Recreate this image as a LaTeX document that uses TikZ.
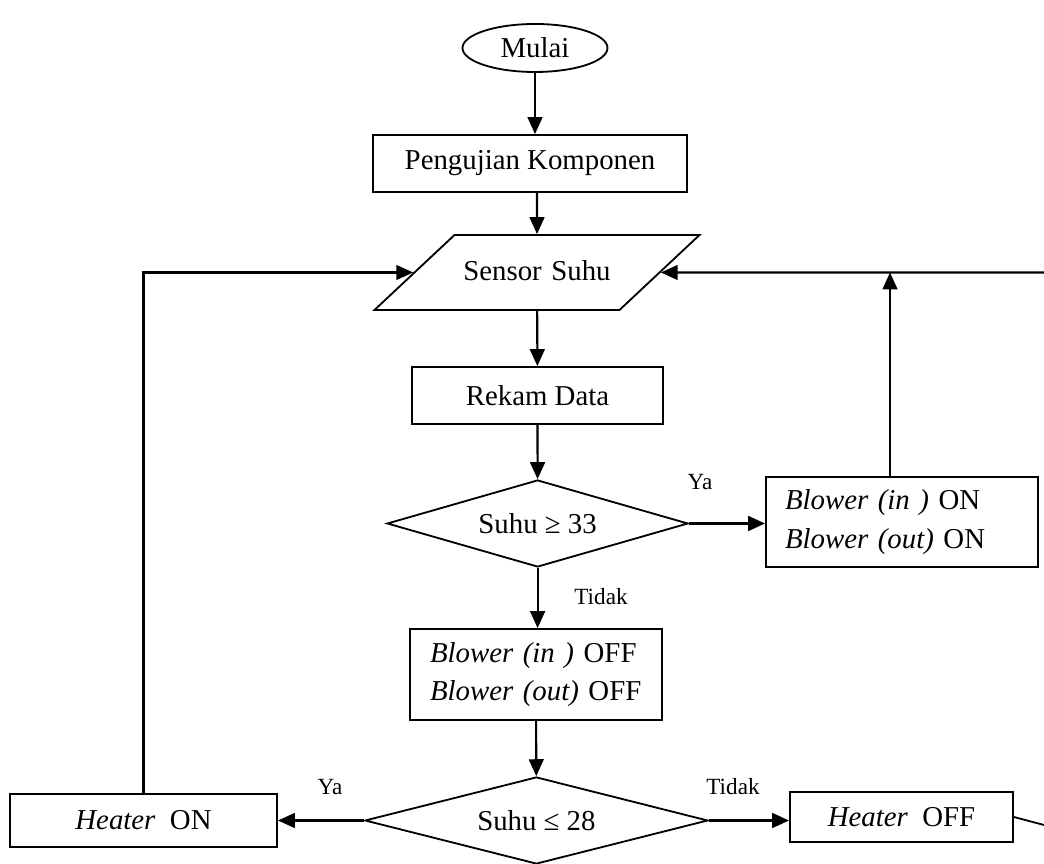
\documentclass[tikz,border=0pt]{standalone}
\usepackage{fontspec}
\setmainfont{Liberation Serif}
\usetikzlibrary{shapes.geometric,arrows.meta}

\begin{document}
\begin{tikzpicture}[
	every node/.style={font=\fontsize{20.5}{27.5}\selectfont},
	terminal/.style={draw,ellipse,line width=1.3pt,minimum width=3.625cm,minimum height=1.2cm,inner sep=0pt},
	proses/.style={draw,rectangle,line width=1.3pt,minimum height=1.425cm},
	masukan/.style={draw,trapezium,trapezium left angle=43.15,trapezium right angle=136.85,line width=1.3pt,inner xsep=0pt,inner ysep=0.5375cm,text width=4.125cm,text height=0.6cm,text depth=0.2cm,align=center},
	keputusan/.style={draw,diamond,aspect=3.5,inner sep=0pt,line width=1.3pt},
	ket/.style={font=\fontsize{16.5}{20}\selectfont},
	panah/.style={line width=1.5pt,-{Triangle[length=12pt,width=10.5pt]}}
]
		\useasboundingbox (0,0) rectangle (26.1,21.6);
		\node[terminal] (mulai) at (13.375,20.4) {Mulai};
		\node[proses,minimum width=7.85cm] (uji) at (13.25,17.5125) {Pengujian Komponen};
		\node[masukan] (sensor) at (13.425,14.7875) {Sensor Suhu};
		\node[proses,minimum width=6.275cm] (rekam) at (13.4375,11.7125) {Rekam Data};
		\node[keputusan,minimum width=7.525cm,minimum height=2.175cm] (cek1) at (13.44,8.5125) {Suhu ≥ 33};
		\node[proses,minimum width=6.8cm,minimum height=2.25cm,inner xsep=0.475cm,text width=5.85cm,align=left] (bon) at (22.55,8.55) {\textit{Blower (in )} ON\\\textit{Blower (out)} ON};
		\node[proses,minimum width=6.3cm,minimum height=2.275cm,inner xsep=0.5cm,text width=5.3cm,align=left] (boff) at (13.4,4.7375) {\textit{Blower (in )} OFF\\\textit{Blower (out)} OFF};
		\node[keputusan,minimum width=8.575cm,minimum height=2.175cm] (cek2) at (13.41,1.0875) {Suhu ≤ 28};
		\node[proses,minimum width=6.675cm,minimum height=1.325cm] (hon) at (3.5875,1.0875) {\textit{Heater}~~ON};
		\node[proses,minimum width=5.575cm,minimum height=1.25cm] (hoff) at (22.5375,1.175) {\textit{Heater}~~OFF};
		\coordinate (kanan) at (26.1,14.7875);
		\coordinate (temu) at (22.25,14.7875);
		\coordinate (ujung) at (26.1,0.975);
		\node[ket] (ya1) at (17.5,9.55) {Ya};
		\node[ket] (tidak1) at (15.025,6.675) {Tidak};
		\node[ket] (ya2) at (8.25,1.925) {Ya};
		\node[ket] (tidak2) at (18.325,1.925) {Tidak};
		\draw[panah] (mulai) -- (mulai |- uji.north);
		\draw[panah] (uji.south -| sensor) -- (sensor);
		\draw[panah] (sensor) -- (rekam);
		\draw[panah] (rekam) -- (cek1);
		\draw[panah] (cek1.east) -- (cek1.east -| bon.west);
		\draw[panah] (cek1.south) -- (cek1.south |- boff.north);
		\draw[panah] (boff) -- (cek2);
		\draw[panah] (cek2) -- (hon);
		\draw[panah] (cek2.east) -- (cek2.east -| hoff.west);
		\draw[panah] (hon.north) |- (sensor);
		\draw[panah] (kanan) -- (sensor);
		\draw[panah] (bon.north -| temu) -- (temu);
		\draw[line width=1.3pt] (hoff.east) -- (ujung);
	\end{tikzpicture}
\end{document}
